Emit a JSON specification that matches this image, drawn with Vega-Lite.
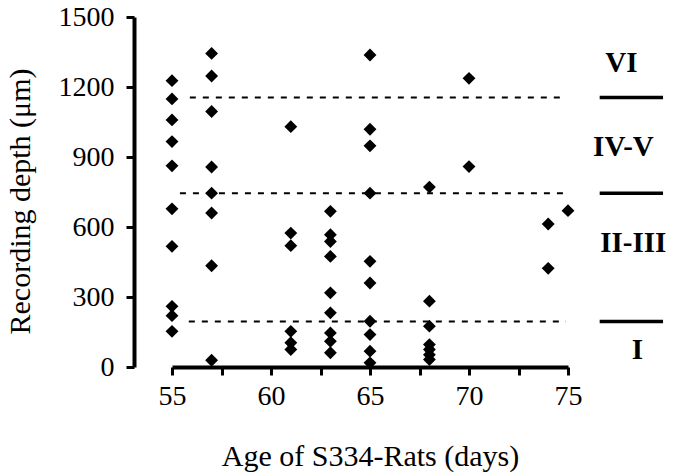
{
  "$schema": "https://vega.github.io/schema/vega-lite/v6.json",
  "autosize": "none",
  "width": 396,
  "height": 350,
  "padding": {"left": 172, "top": 17, "right": 107, "bottom": 109},
  "background": "white",
  "config": {
    "view": {"stroke": null},
    "font": "Liberation Serif",
    "axis": {
      "grid": false,
      "domainColor": "black",
      "domainWidth": 4,
      "tickColor": "black",
      "tickWidth": 3,
      "tickSize": 8,
      "labelColor": "black",
      "titleColor": "black",
      "labelFont": "Liberation Serif",
      "titleFont": "Liberation Serif",
      "labelFontSize": 28,
      "titleFontSize": 30,
      "titleFontWeight": "normal"
    }
  },
  "datasets": {
    "points": [
      {"age": 55, "depth": 1227}, {"age": 55, "depth": 1149}, {"age": 55, "depth": 1059}, {"age": 55, "depth": 966}, {"age": 55, "depth": 862},
      {"age": 55, "depth": 678}, {"age": 55, "depth": 517}, {"age": 55, "depth": 260}, {"age": 55, "depth": 220}, {"age": 55, "depth": 153},
      {"age": 57, "depth": 1344}, {"age": 57, "depth": 1247}, {"age": 57, "depth": 1095}, {"age": 57, "depth": 857}, {"age": 57, "depth": 745},
      {"age": 57, "depth": 660}, {"age": 57, "depth": 434}, {"age": 57, "depth": 29},
      {"age": 61, "depth": 1030}, {"age": 61, "depth": 574}, {"age": 61, "depth": 520}, {"age": 61, "depth": 153}, {"age": 61, "depth": 104}, {"age": 61, "depth": 75},
      {"age": 63, "depth": 667}, {"age": 63, "depth": 567}, {"age": 63, "depth": 538}, {"age": 63, "depth": 474}, {"age": 63, "depth": 318},
      {"age": 63, "depth": 232}, {"age": 63, "depth": 146}, {"age": 63, "depth": 110}, {"age": 63, "depth": 61},
      {"age": 65, "depth": 1337}, {"age": 65, "depth": 1019}, {"age": 65, "depth": 948}, {"age": 65, "depth": 745}, {"age": 65, "depth": 453},
      {"age": 65, "depth": 360}, {"age": 65, "depth": 196}, {"age": 65, "depth": 139}, {"age": 65, "depth": 68}, {"age": 65, "depth": 18},
      {"age": 68, "depth": 771}, {"age": 68, "depth": 282}, {"age": 68, "depth": 175}, {"age": 68, "depth": 96}, {"age": 68, "depth": 75},
      {"age": 68, "depth": 53}, {"age": 68, "depth": 32},
      {"age": 70, "depth": 1237}, {"age": 70, "depth": 859},
      {"age": 74, "depth": 613}, {"age": 74, "depth": 423},
      {"age": 75, "depth": 670}
    ],
    "borders": [
      {"x1": 55.9, "x2": 74.6, "depth": 1155},
      {"x1": 55.4, "x2": 74.95, "depth": 745},
      {"x1": 55.85, "x2": 74.9, "depth": 195}
    ],
    "layerLines": [
      {"x1": 76.6, "x2": 79.8, "depth": 1155},
      {"x1": 76.6, "x2": 79.8, "depth": 745},
      {"x1": 76.6, "x2": 79.8, "depth": 195}
    ],
    "layerLabels": [
      {"pos": 77.7, "depth": 1303, "label": "VI"},
      {"pos": 77.8, "depth": 943, "label": "IV-V"},
      {"pos": 78.3, "depth": 533, "label": "II-III"},
      {"pos": 78.5, "depth": 75, "label": "I"}
    ]
  },
  "layer": [
    {
      "data": {"name": "borders"},
      "mark": {"type": "rule", "color": "black", "strokeWidth": 2, "strokeDash": [6, 7]},
      "encoding": {
        "x": {"field": "x1", "type": "quantitative", "scale": {"domain": [55, 75], "nice": false, "zero": false},
          "axis": {
            "title": "Age of S334-Rats (days)",
            "values": [55, 57.5, 60, 62.5, 65, 67.5, 70, 72.5, 75],
            "labelExpr": "datum.value % 5 == 0 ? datum.label : ''",
            "format": "d",
            "labelPadding": 7,
            "titlePadding": 31,
            "labelFlush": false
          }},
        "x2": {"field": "x2"},
        "y": {"field": "depth", "type": "quantitative", "scale": {"domain": [0, 1500], "nice": false},
          "axis": {
            "title": "Recording depth (μm)",
            "offset": 38,
            "values": [0, 150, 300, 450, 600, 750, 900, 1050, 1200, 1350, 1500],
            "labelExpr": "datum.value % 300 == 0 ? datum.label : ''",
            "format": "d",
            "labelPadding": 12,
            "labelFlush": false,
            "titleX": -114,
            "titleY": 184,
            "titleAngle": -90,
            "titleAlign": "center",
            "titleBaseline": "middle"
          }}
      }
    },
    {
      "data": {"name": "layerLines"},
      "mark": {"type": "rule", "color": "black", "strokeWidth": 3.5},
      "encoding": {
        "x": {"field": "x1", "type": "quantitative"},
        "x2": {"field": "x2"},
        "y": {"field": "depth", "type": "quantitative"}
      }
    },
    {
      "data": {"name": "layerLabels"},
      "mark": {"type": "text", "font": "Liberation Serif", "fontSize": 29, "fontWeight": "bold", "color": "black", "align": "center", "baseline": "middle"},
      "encoding": {
        "x": {"field": "pos", "type": "quantitative"},
        "y": {"field": "depth", "type": "quantitative"},
        "text": {"field": "label"}
      }
    },
    {
      "data": {"name": "points"},
      "mark": {"type": "point", "shape": "diamond", "filled": true, "color": "black", "opacity": 1, "size": 165},
      "encoding": {
        "x": {"field": "age", "type": "quantitative"},
        "y": {"field": "depth", "type": "quantitative"}
      }
    }
  ]
}
